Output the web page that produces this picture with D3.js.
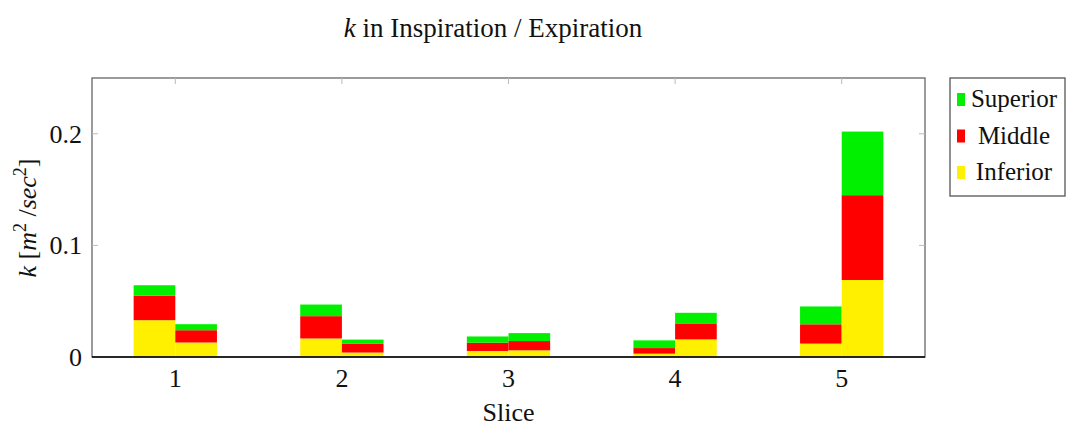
<!DOCTYPE html>
<html>
<head>
<meta charset="utf-8">
<script src="https://cdn.jsdelivr.net/npm/d3@7"></script>
<style>
  body { margin: 0; background: #fff; }
</style>
</head>
<body>
<svg id="chart"></svg>
<script>
const W = 1067, H = 427;
const margin = {top: 78, right: 142, bottom: 70, left: 92};
const width = W - margin.left - margin.right;
const height = H - margin.top - margin.bottom;
const FONT = "Liberation Serif";

// values
const slices = [1, 2, 3, 4, 5];
const regions = ["Inferior", "Middle", "Superior"];
const inferiorIn = [0.033, 0.0166, 0.0054, 0.003, 0.012];
const middleIn   = [0.022, 0.020, 0.0074, 0.005, 0.0173];
const superiorIn = [0.0093, 0.0104, 0.0056, 0.0069, 0.016];
const inferiorEx = [0.013, 0.004, 0.006, 0.0158, 0.069];
const middleEx   = [0.011, 0.0078, 0.0083, 0.0143, 0.076];
const superiorEx = [0.0054, 0.0038, 0.0071, 0.0095, 0.057];
const yTicks = [0, 0.1, 0.2];
const colors = {Superior: "#00f000", Middle: "#ff0000", Inferior: "#fff000"};

const svg = d3.select("#chart").attr("width", W).attr("height", H);
const g = svg.append("g").attr("transform", "translate(" + margin.left + "," + margin.top + ")");

function label(sel) {
  return sel.append("text").attr("font-family", FONT).attr("fill", "#111");
}

const x = d3.scaleLinear().domain([0.5, 5.5]).range([0, width]);
const y = d3.scaleLinear().domain([0, 0.25]).range([height, 0]);
const barW = x(0.25) - x(0);

function rows(inf, mid, sup) {
  return slices.map(function(s, i) {
    return {slice: s, Inferior: inf[i], Middle: mid[i], Superior: sup[i]};
  });
}
// inspiration bar left of the tick, expiration bar right of it
const phases = [
  {offset: -0.125, data: rows(inferiorIn, middleIn, superiorIn)},
  {offset: 0.125, data: rows(inferiorEx, middleEx, superiorEx)}
];

const stack = d3.stack().keys(regions);
phases.forEach(function(p) {
  const layers = stack(p.data);
  g.selectAll(null)
    .data(layers)
    .enter().append("g")
    .attr("fill", function(d) { return colors[d.key]; })
    .selectAll("rect")
    .data(function(d) { return d; })
    .enter().append("rect")
    .attr("x", function(d) { return x(d.data.slice + p.offset) - barW / 2; })
    .attr("width", barW)
    .attr("y", function(d) { return y(d[1]); })
    .attr("height", function(d) { return y(d[0]) - y(d[1]); });
});

// frame
g.append("rect")
  .attr("width", width).attr("height", height)
  .attr("fill", "none").attr("stroke", "#666").attr("stroke-width", 1.3);

// ticks (inside, both sides)
const tickCol = "#bbb";
yTicks.filter(function(d) { return d > 0; }).forEach(function(d) {
  g.append("line").attr("x1", 0).attr("x2", 6).attr("y1", y(d)).attr("y2", y(d)).attr("stroke", tickCol);
  g.append("line").attr("x1", width).attr("x2", width - 6).attr("y1", y(d)).attr("y2", y(d)).attr("stroke", tickCol);
});
slices.forEach(function(s) {
  g.append("line").attr("x1", x(s)).attr("x2", x(s)).attr("y1", 0).attr("y2", 6).attr("stroke", tickCol);
});

// bottom axis line
g.append("line").attr("x1", 0).attr("x2", width).attr("y1", height).attr("y2", height)
  .attr("stroke", "#000").attr("stroke-width", 1.5);

// tick labels
slices.forEach(function(s) {
  label(g).attr("x", x(s)).attr("y", height + 30)
    .attr("text-anchor", "middle").attr("font-size", 26)
    .text(s);
});
yTicks.forEach(function(d) {
  label(g).attr("x", -10).attr("y", y(d) + 9)
    .attr("text-anchor", "end").attr("font-size", 26)
    .text(d === 0 ? "0" : d3.format(".1f")(d));
});

// axis titles
label(svg).attr("x", margin.left + width / 2).attr("y", 421)
  .attr("text-anchor", "middle").attr("font-size", 26)
  .text("Slice");

const yl = label(svg)
  .attr("transform", "translate(36,218) rotate(-90)")
  .attr("text-anchor", "middle")
  .attr("font-size", 26);
yl.append("tspan").attr("font-style", "italic").text("k");
yl.append("tspan").text(" [");
yl.append("tspan").attr("font-style", "italic").text("m");
yl.append("tspan").attr("font-size", 18).attr("dy", -10).text("2");
yl.append("tspan").attr("dy", 10).text(" /");
yl.append("tspan").attr("font-style", "italic").text("sec");
yl.append("tspan").attr("font-size", 18).attr("dy", -10).text("2");
yl.append("tspan").attr("dy", 10).text("]");

// title
const title = label(svg)
  .attr("x", 493).attr("y", 37)
  .attr("text-anchor", "middle")
  .attr("font-size", 27);
title.append("tspan").attr("font-style", "italic").text("k");
title.append("tspan").text(" in Inspiration / Expiration");

// legend
const legend = svg.append("g").attr("transform", "translate(950,78)");
legend.append("rect")
  .attr("width", 115).attr("height", 118)
  .attr("fill", "#fff").attr("stroke", "#555").attr("stroke-width", 1.3);
const legendItems = ["Superior", "Middle", "Inferior"];
legendItems.forEach(function(k, i) {
  const base = 29 + i * 36.5;
  legend.append("rect")
    .attr("x", 7).attr("y", base - 14).attr("width", 8).attr("height", 13)
    .attr("fill", colors[k]);
  label(legend).attr("x", 64).attr("y", base)
    .attr("text-anchor", "middle").attr("font-size", 25)
    .text(k);
});
</script>
</body>
</html>
